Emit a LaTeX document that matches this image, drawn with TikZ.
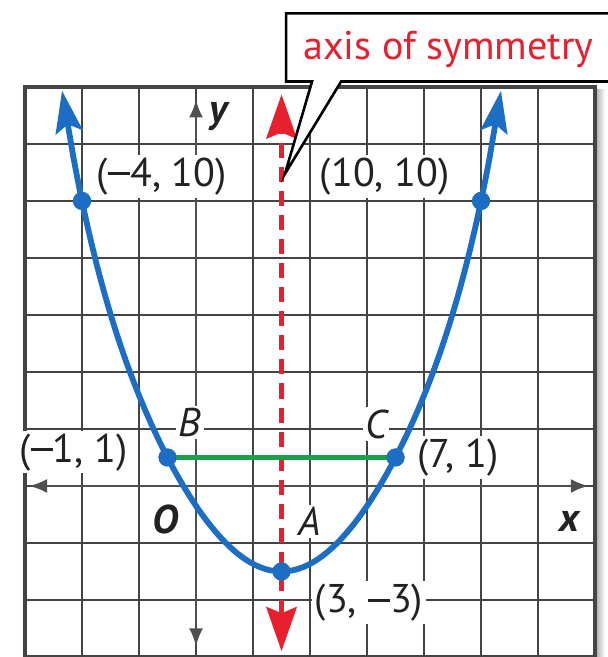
\documentclass[tikz,border=0pt]{standalone}
\usepackage{fontspec}
\setmainfont{PT Sans}
\usetikzlibrary{arrows.meta}
\definecolor{gridc}{HTML}{444444}
\definecolor{axisc}{HTML}{505050}
\definecolor{textc}{HTML}{222222}
\definecolor{bluec}{HTML}{1C6EC4}
\definecolor{redc}{HTML}{E8202E}
\definecolor{greenc}{HTML}{1AA046}
\newcommand{\mymn}{\rule[0.27em]{0.56em}{0.075em}}
\begin{document}
\begin{tikzpicture}[x=0.5cm,y=0.5cm,
  every node/.style={font=\fontsize{20}{23}\selectfont},
  lbl/.style={fill=white, inner sep=1.2pt, text=textc},
  dotb/.style={circle, fill=bluec, inner sep=0pt, minimum size=9pt},
  gridline/.style={gridc, line width=1.15pt},
  axisline/.style={axisc, line width=1.4pt, {Latex[length=9pt,width=7pt]}-{Latex[length=9pt,width=7pt]}},
  symline/.style={redc, line width=2.9pt, dash pattern=on 7.5pt off 4.5pt,
     {Stealth[length=22pt,width=15pt,inset=3pt]}-{Stealth[length=22pt,width=15pt,inset=3pt]}},
  curve/.style={bluec, line width=2.9pt, line cap=round},
  curvetip/.style={bluec, line width=2.9pt, -{Stealth[length=21pt,width=13.5pt,inset=4pt]}},
  seg/.style={greenc, line width=2.9pt},
  callout/.style={black, line width=1.3pt, line join=miter},
]
\useasboundingbox (-6.877,-6.0) rectangle (14.42,17.05);
% shadow
\shade[left color=black!35, right color=white] (14,-6) rectangle (14.35,13.9);
% grid
\draw[gridline] (-6,-6) grid[step=2] (14,14);
\draw[gridc, line width=1.6pt] (-6,-6) rectangle (14,14);
% axes
\coordinate (xl) at (-5.86,0);
\coordinate (xr) at (13.78,0);
\coordinate (yb) at (0,-5.63);
\coordinate (yt) at (0,13.56);
\draw[axisline] (xl) -- (xr);
\draw[axisline] (yb) -- (yt);
% labels
\node[lbl] (lA) at (-1.2,10.86) {(\mymn4, 10)};
\node[lbl] (lB) at (6.62,10.86) {(10, 10)};
\node[lbl] (lC) at (-4.3,1.18) {(\mymn1, 1)};
\node[lbl] (lD) at (9.19,1.0) {(7, 1)};
\node[lbl] (lE) at (6.07,-4.09) {(3, \mymn3)};
\node[lbl, font=\fontsize{20}{23}\selectfont\itshape] (nB) at (-0.21,2.23) {B};
\node[lbl, font=\fontsize{20}{23}\selectfont\itshape] (nC) at (6.32,2.16) {C};
\node[lbl, font=\fontsize{20}{23}\selectfont\itshape] (nA) at (4.0,-1.25) {A};
\node[lbl, font=\fontsize{20}{23}\selectfont\bfseries\itshape] (nO) at (-1.09,-1.18) {O};
\node[lbl, font=\fontsize{20}{23}\selectfont\bfseries\itshape] (nx) at (13.09,-1.25) {x};
\node[lbl, font=\fontsize{20}{23}\selectfont\bfseries\itshape] (ny) at (0.8,12.96) {y};
% axis of symmetry
\coordinate (rt) at (3,13.74);
\coordinate (rb) at (3,-5.8);
\draw[symline] (rb) -- (rt);
% points
\node[dotb] (p1) at (-4,10) {};
\node[dotb] (p2) at (-1,1) {};
\node[dotb] (p3) at (3,-3) {};
\node[dotb] (p4) at (7,1) {};
\node[dotb] (p5) at (10,10) {};
% green segment
\draw[seg] (p2.center) -- (p4.center);
% parabola
\draw[curve] plot[domain=-7.3:7.3, samples=160, smooth]
  ({\x+3},{0.26802*\x*\x - 1.02844*(\x*\x/25)^2 + 0.50703*(\x*\x/25)^3 - 3});
\coordinate (bl0) at (-4.3,11.521);
\coordinate (bl1) at (-4.7,13.87);
\coordinate (br0) at (10.3,11.521);
\coordinate (br1) at (10.7,13.87);
\draw[curvetip] (bl0) -- (bl1);
\draw[curvetip] (br0) -- (br1);
\node[dotb] at (p1) {};
\node[dotb] at (p2) {};
\node[dotb] at (p3) {};
\node[dotb] at (p4) {};
\node[dotb] at (p5) {};
% callout
\coordinate (c1) at (3.16,14.19);
\coordinate (c2) at (4.07,14.19);
\coordinate (tip) at (3.12,10.95);
\coordinate (c3) at (5.09,14.19);
\coordinate (c4) at (14.7,14.19);
\coordinate (c5) at (14.7,16.58);
\coordinate (c6) at (3.16,16.58);
\fill[white] (c1) -- (c2) -- (tip) -- (c3) -- (c4) -- (c5) -- (c6) -- cycle;
\draw[callout] (c4) -- (c3) -- (tip) -- (c2) -- (c1) -- (c6) -- (c5);
\node[text=redc] (cap) at (8.85,15.33) {axis of symmetry};
\end{tikzpicture}
\end{document}
